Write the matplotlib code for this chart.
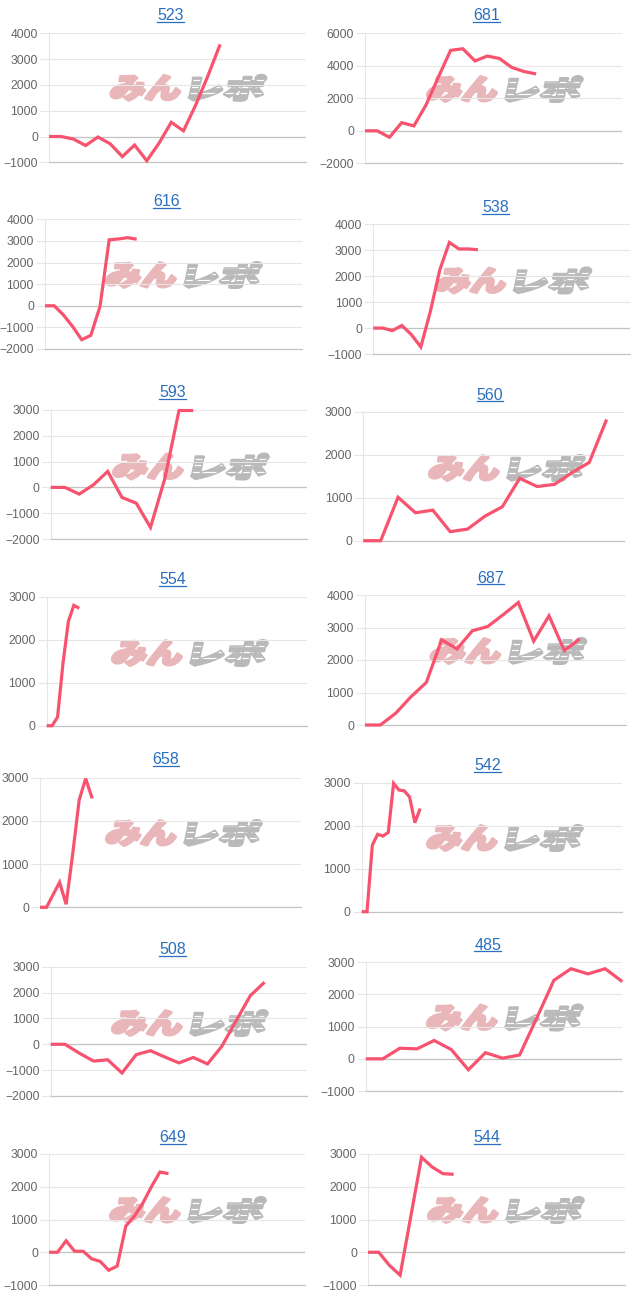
import math
import matplotlib
matplotlib.use('Agg')
import matplotlib.pyplot as plt
from matplotlib.font_manager import FontProperties
from matplotlib.textpath import TextPath
from matplotlib.patches import PathPatch
from matplotlib.transforms import Affine2D
from matplotlib.ticker import MultipleLocator

# ---------------- data ----------------
titles = ['523', '681', '616', '538', '593', '560', '554',
          '687', '658', '542', '508', '485', '649', '544']

v523 = [0, 0, -100, -350, -20, -280, -780, -330, -940, -260, 550, 220, 1220, 2350, 3570]
v681 = [0, 0, -400, 500, 300, 1600, 3300, 4950, 5050, 4300, 4600, 4450, 3900, 3650, 3500]
v616 = [0, 0, -420, -950, -1570, -1370, -30, 3050, 3090, 3150, 3080]
v538 = [0, 0, -100, 100, -250, -730, 640, 2250, 3300, 3050, 3050, 3020]
v593 = [0, 0, -260, 100, 620, -390, -610, -1550, 330, 2980, 2980]
v560 = [0, 0, 1010, 650, 710, 210, 270, 570, 790, 1450, 1260, 1310, 1580, 1820, 2820]
v554 = [0, 0, 200, 1450, 2430, 2800, 2730]
v687 = [0, 0, 360, 870, 1310, 2620, 2340, 2900, 3030, 3390, 3770, 2580, 3360, 2290, 2650]
v658 = [0, 0, 290, 580, 70, 1220, 2480, 2980, 2520]
v542 = [0, 0, 1550, 1800, 1760, 1845, 2985, 2830, 2810, 2670, 2070, 2400]
v508 = [0, 0, -340, -650, -600, -1110, -400, -250, -490, -720, -510, -760, -80, 900, 1880, 2400]
v485 = [0, 0, 330, 310, 570, 290, -340, 190, 20, 120, 1270, 2440, 2800, 2640, 2800, 2400]
v649 = [0, 0, 350, 30, 30, -200, -280, -550, -420, 800, 1100, 1500, 2000, 2450, 2400]
v544 = [0, 0, -400, -700, 1100, 2900, 2600, 2400, 2380]

series = [v523, v681, v616, v538, v593, v560, v554,
          v687, v658, v542, v508, v485, v649, v544]

# number of x categories on each chart
n_slots = [22, 22, 29, 28, 19, 16, 49, 18, 41, 50, 19, 16, 31, 25]

# y axis ranges and tick steps
y_min = [-1000, -2000, -2000, -1000, -2000, 0, 0, 0, 0, 0, -2000, -1000, -1000, -1000]
y_max = [4000, 6000, 4000, 4000, 3000, 3000, 3000, 4000, 3000, 3000, 3000, 3000, 3000, 3000]
y_step = [1000, 2000, 1000, 1000, 1000, 1000, 1000, 1000, 1000, 1000, 1000, 1000, 1000, 1000]

# ---------------- layout (figure pixels, y from top) ----------------
W, H = 640, 1303
boxes = {  # left, top, right, bottom
    '523': (49, 33.3, 305.7, 162.3),
    '681': (365, 33.3, 621.7, 163.3),
    '616': (45, 219.3, 301.7, 349),
    '538': (373.3, 224.3, 630, 354),
    '593': (50.7, 410, 307.3, 539),
    '560': (363.3, 411.7, 624, 540.7),
    '554': (46.7, 596.7, 307.3, 725.7),
    '687': (365, 595, 625.7, 725),
    '658': (40, 777.7, 301, 907.3),
    '542': (361.7, 782.7, 622.3, 911.7),
    '508': (50.7, 966.7, 307.3, 1096),
    '485': (365.7, 962.3, 622.3, 1091),
    '649': (49, 1154, 305, 1285),
    '544': (368, 1154, 625, 1285),
}
title_pos = {
    '523': (170.7, 15), '681': (486.7, 15),
    '616': (166.7, 201), '538': (495.7, 206.7),
    '593': (172.7, 391.7), '560': (490, 394),
    '554': (172.7, 579), '687': (490.7, 577.3),
    '658': (166, 759), '542': (487.7, 765),
    '508': (172.7, 949), '485': (487.7, 944),
    '649': (173, 1137), '544': (487, 1137),
}
logo_pos = {
    '523': (187.5, 87.8), '681': (504, 89),
    '616': (183, 275), '538': (512.5, 280.5),
    '593': (190, 466.5), '560': (506, 468),
    '554': (189, 653), '687': (507.5, 651),
    '658': (183, 833), '542': (504, 838),
    '508': (189, 1023), '485': (504, 1017.5),
    '649': (187, 1210), '544': (505, 1210),
}

LINE = '#f7536f'
GRID = '#e6e6e6'
ZERO = '#c4c4c4'
TXT = '#666666'
LINK = '#2a6fbf'
FONT = ['Liberation Sans', 'DejaVu Sans']

plt.rcParams['font.family'] = FONT

fig = plt.figure(figsize=(W / 100, H / 100), dpi=100)
fig.patch.set_facecolor('white')

# overlay for titles and watermark
ov = fig.add_axes([0, 0, 1, 1], zorder=0)
ov.set_xlim(0, W)
ov.set_ylim(0, H)
ov.axis('off')

fp_logo = FontProperties(family='Noto Sans CJK JP', weight='black')


def add_logo(cx, cy):
    Y = H - cy
    h = 25.0
    total_w = 156.0
    x0 = cx - total_w / 2
    shear = 12
    k = math.tan(math.radians(shear)) * h
    parts = [('みん', '#e9b7ba', 74.0, x0), ('レポ', '#b9b9b9', 78.0, x0 + 79)]
    for s, col, w, xl in parts:
        tp = TextPath((0, 0), s, size=100, prop=fp_logo)
        ext = tp.get_extents()
        tr = (Affine2D().translate(-ext.x0, -ext.y0)
              .scale((w - k) / ext.width, h / ext.height)
              .skew_deg(shear, 0)
              .translate(xl, Y - h / 2))
        path = tr.transform_path(tp)
        patch = PathPatch(path, facecolor=col, edgecolor=col, lw=2.2,
                          joinstyle='round', zorder=1)
        ov.add_patch(patch)
        if s == 'レポ':
            for fy in (0.3, 0.55, 0.8):
                ln, = ov.plot([xl - 5, xl + w + 5], [Y - h / 2 + h * fy] * 2,
                              color='white', lw=0.9, zorder=2)
                ln.set_clip_path(patch)


title_texts = []
for name in titles:
    tx, ty = title_pos[name]
    t = ov.text(tx, H - ty - 5.5, name, ha='center', va='baseline',
                fontsize=11.5, color=LINK, family=FONT)
    title_texts.append((t, ty))
    lx, ly = logo_pos[name]
    add_logo(lx, ly)

# panels
for name, vals, ns, lo, hi, st in zip(titles, series, n_slots, y_min, y_max, y_step):
    l, t, r, b = boxes[name]
    ax = fig.add_axes([l / W, 1 - b / H, (r - l) / W, (b - t) / H], zorder=2)
    ax.patch.set_alpha(0)
    ax.plot(range(len(vals)), vals, color=LINE, lw=2.3, solid_joinstyle='miter',
            solid_capstyle='butt', zorder=3, clip_on=False)
    ax.set_xlim(0, ns - 1)
    ax.set_ylim(lo, hi)
    ax.yaxis.set_major_locator(MultipleLocator(st))
    ax.set_xticks([])
    ax.yaxis.grid(True, color=GRID, lw=0.8, zorder=0)
    ax.set_axisbelow(True)
    if lo < 0 < hi:
        ax.axhline(0, color=ZERO, lw=0.9, zorder=1)
    for sp in ('top', 'right'):
        ax.spines[sp].set_visible(False)
    ax.spines['left'].set_color(GRID)
    ax.spines['left'].set_linewidth(0.8)
    ax.spines['bottom'].set_color(ZERO)
    ax.spines['bottom'].set_linewidth(0.9)
    ax.tick_params(axis='y', length=6.5, width=0.8, color=GRID, labelsize=8.7,
                   labelcolor=TXT, pad=1.5)
    for lab in ax.get_yticklabels():
        lab.set_family(FONT)

# underline titles
fig.canvas.draw()
rend = fig.canvas.get_renderer()
for t, ty in title_texts:
    bb = t.get_window_extent(renderer=rend)
    x0, x1 = bb.x0, bb.x1
    yl = H - ty - 7.0
    ov.plot([x0, x1], [yl, yl], color=LINK, lw=0.9, zorder=3)

fig.savefig('out.png', dpi=100, facecolor='white')
